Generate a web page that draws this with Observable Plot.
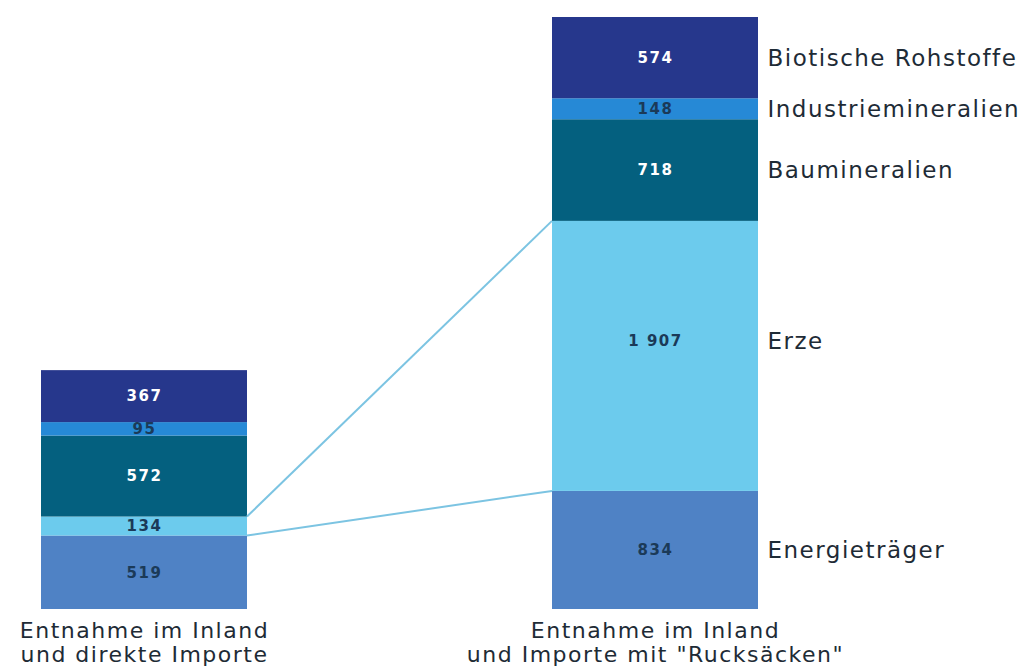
<!DOCTYPE html>
<html><head><meta charset="utf-8">
<script src="https://cdn.jsdelivr.net/npm/d3@7"></script>
<script src="https://cdn.jsdelivr.net/npm/@observablehq/plot@0.6"></script>
<style>body{margin:0;background:#fff;} #chart svg{display:block;} #chart svg text{letter-spacing:1.5px;}</style>
</head><body><div id="chart"></div>
<script>
// Data
const bars = ["Entnahme im Inland\nund direkte Importe", "Entnahme im Inland\nund Importe mit \"Rucksäcken\""];
const categories = ["Energieträger", "Erze", "Baumineralien", "Industriemineralien", "Biotische Rohstoffe"];
const directValues = [519, 134, 572, 95, 367];
const rucksackValues = [834, 1907, 718, 148, 574];

// Styles
const colors = ["#4f82c5", "#6ccbed", "#04607f", "#2689d6", "#26378c"];
const whiteLabelCats = ["Baumineralien", "Biotische Rohstoffe"];
const raisedCat = "Erze";
const raisedDy = -15;
const textColor = "#1e2b36";

const data = categories.flatMap((c, i) => [
  {bar: bars[0], cat: c, value: directValues[i]},
  {bar: bars[1], cat: c, value: rucksackValues[i]}
]);
const fmt = v => v >= 1000 ? d3.format(",")(v).replace(/,/g, " ") : String(v);
const total = d3.sum(rucksackValues);
const iErz = categories.indexOf("Erze");
const links = [
  {from: d3.sum(directValues.slice(0, iErz + 1)), to: d3.sum(rucksackValues.slice(0, iErz + 1))},
  {from: d3.sum(directValues.slice(0, iErz)), to: d3.sum(rucksackValues.slice(0, iErz))}
];

const linkMark = (index, scales) => {
  const x = scales.x, y = scales.y;
  const bw = typeof x.bandwidth === "function" ? x.bandwidth() : x.bandwidth;
  const g = d3.create("svg:g");
  for (const l of links) {
    g.append("line")
      .attr("x1", x(bars[0]) + bw).attr("y1", y(l.from))
      .attr("x2", x(bars[1])).attr("y2", y(l.to))
      .attr("stroke", "#7cc4e2").attr("stroke-width", 2);
  }
  return g.node();
};

const isRaised = d => d.cat === raisedCat && d.bar === bars[1];
const valueLabel = (raised) => ({
  x: "bar", y: "value", z: "cat",
  text: d => (isRaised(d) === raised) ? fmt(d.value) : null,
  fill: d => whiteLabelCats.includes(d.cat) ? "#ffffff" : "#1b3a58",
  fontSize: 15, fontWeight: 600, dy: raised ? raisedDy : 0
});
const catLabel = (raised) => ({
  x: "bar", y: "value", z: "cat",
  text: d => (d.bar === bars[1] && isRaised(d) === raised) ? d.cat : null,
  textAnchor: "start", dx: 112, dy: raised ? raisedDy : 0,
  fontSize: 23, fill: textColor
});

const chart = Plot.plot({
  width: 1023,
  height: 666,
  marginTop: 17,
  marginBottom: 57,
  marginLeft: 41,
  marginRight: 265,
  style: {fontFamily: "DejaVu Sans", background: "#fff"},
  x: {domain: bars, paddingInner: 0.597, paddingOuter: 0, axis: null},
  y: {domain: [0, total], axis: null},
  color: {domain: categories, range: colors},
  marks: [
    Plot.barY(data, {x: "bar", y: "value", fill: "cat"}),
    linkMark,
    Plot.text(data, Plot.stackY(valueLabel(false))),
    Plot.text(data, Plot.stackY(valueLabel(true))),
    Plot.text(data, Plot.stackY(catLabel(false))),
    Plot.text(data, Plot.stackY(catLabel(true))),
    Plot.text(bars, {
      x: d => d, text: d => d, frameAnchor: "bottom", lineAnchor: "top",
      dy: 12, fontSize: 22, lineHeight: 1.08, fill: textColor
    })
  ]
});
const textGroups = chart.querySelectorAll("g[aria-label='text']");
if (textGroups.length) textGroups[textGroups.length - 1].style.letterSpacing = "2.2px";
document.getElementById("chart").append(chart);
</script>
</body></html>
